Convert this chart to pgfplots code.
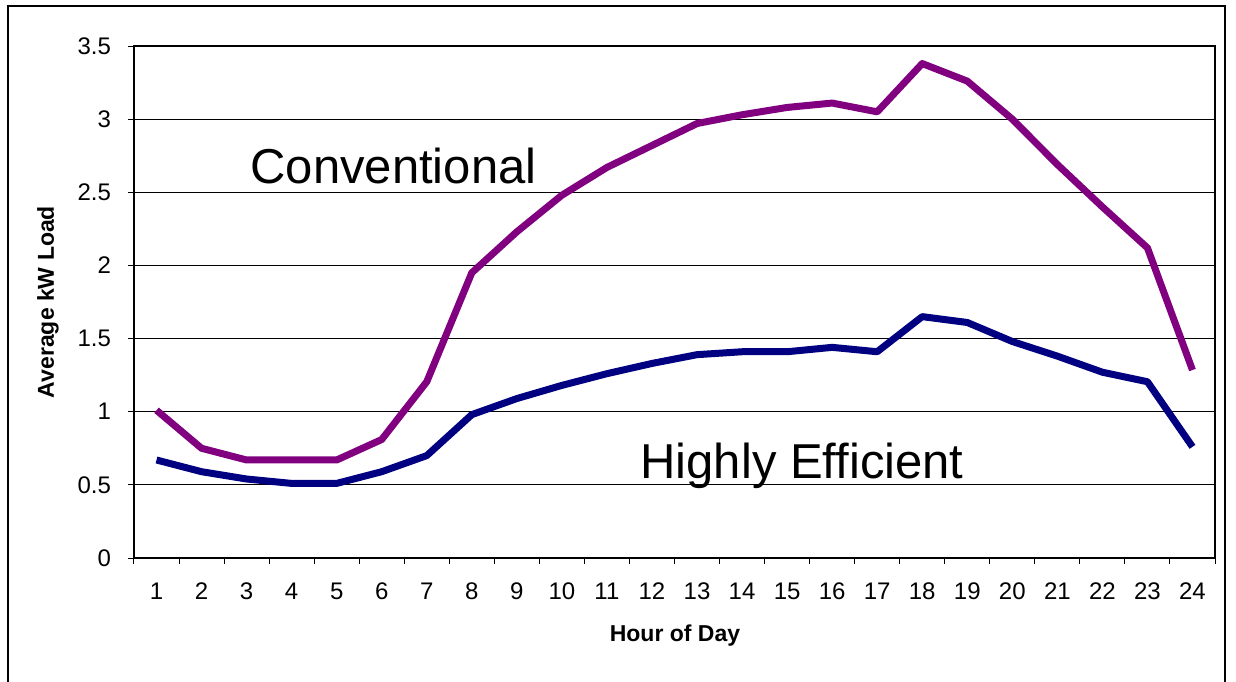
\documentclass[border=0pt]{standalone}
\usepackage{pgfplots}
\pgfplotsset{compat=1.18}
\usepackage{fontspec}
\setmainfont{Liberation Sans}
\definecolor{conv}{HTML}{800080}
\definecolor{eff}{HTML}{000080}
\begin{document}
\begin{tikzpicture}
\useasboundingbox (-67pt,-61.5pt) rectangle (551pt,279pt);
\draw[black, line width=0.6pt] (-63pt,-70pt) -- (-63pt,276pt) -- (545.5pt,276pt) -- (545.5pt,-70pt);
\begin{axis}[
  at={(0,0)}, anchor=south west,
  scale only axis,
  width=540.5pt, height=256pt,
  xmin=0.5, xmax=24.5,
  ymin=0, ymax=3.5,
  xtick={1,...,24},
  major x tick style={draw=none},
  minor xtick={0.5,1.5,...,24.5},
  minor tick length=3pt,
  ytick={0,0.5,1,1.5,2,2.5,3,3.5},
  major tick length=3pt,
  tick align=outside,
  tick pos=left,
  ymajorgrids,
  grid style={black, line width=0.5pt},
  axis line style={black, line width=1.1pt},
  tick style={black, line width=0.5pt},
  every tick label/.append style={font=\fontsize{12}{14}\selectfont},
  /pgf/number format/assume math mode=true,
  xticklabel style={yshift=-6pt},
  yticklabel style={xshift=-5pt},
  clip=false,
]
\addplot[conv, line width=3.5pt, line join=round] coordinates {
(1,1.01) (2,0.75) (3,0.67) (4,0.67) (5,0.67) (6,0.81) (7,1.205) (8,1.95)
(9,2.23) (10,2.48) (11,2.67) (12,2.82) (13,2.97) (14,3.03) (15,3.08) (16,3.11)
(17,3.05) (18,3.38) (19,3.26) (20,3.0) (21,2.69) (22,2.40) (23,2.12) (24,1.285)
};
\addplot[eff, line width=3.5pt, line join=round] coordinates {
(1,0.67) (2,0.59) (3,0.54) (4,0.51) (5,0.51) (6,0.59) (7,0.70) (8,0.98)
(9,1.09) (10,1.18) (11,1.26) (12,1.33) (13,1.39) (14,1.41) (15,1.41) (16,1.44)
(17,1.41) (18,1.65) (19,1.61) (20,1.48) (21,1.38) (22,1.27) (23,1.205) (24,0.76)
};
\end{axis}
\node[anchor=base west, inner sep=0pt, font=\fontsize{24.5}{28}\selectfont] at (58pt,187.5pt) {Conventional};
\node[anchor=base west, inner sep=0pt, font=\fontsize{24.5}{28}\selectfont] at (253pt,40pt) {Highly Efficient};
\node[rotate=90, font=\bfseries\fontsize{11.5}{13}\selectfont] at (-43pt,128pt) {Average kW Load};
\node[font=\bfseries\fontsize{11.5}{13}\selectfont] at (270.5pt,-39pt) {Hour of Day};
\end{tikzpicture}
\end{document}
